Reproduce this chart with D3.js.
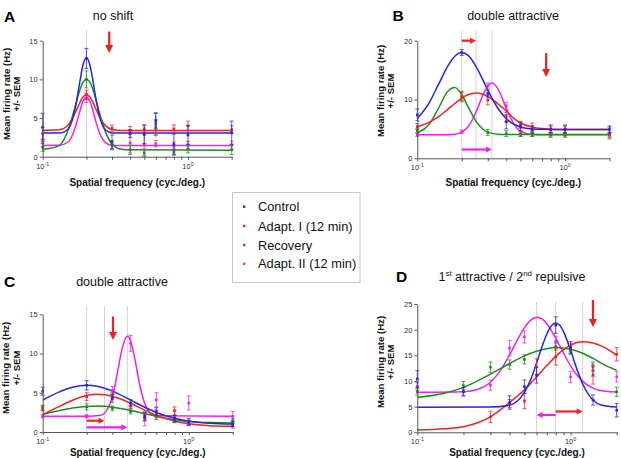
<!DOCTYPE html>
<html><head><meta charset="utf-8">
<script src="https://cdn.jsdelivr.net/npm/d3@7"></script>
<style>body{margin:0;background:#fff}svg{display:block}text{font-family:"Liberation Sans",Arial,sans-serif}</style>
</head><body><svg id="c" width="621" height="458"></svg>
<script>
// ---------- data ----------
const seriesNames = ["Control", "Adapt. I (12 min)", "Recovery", "Adapt. II (12 min)"];
const seriesColors = ["#2525e0", "#ee2424", "#1f8c1f", "#ee22ee"];
const panelLetters = ["A", "B", "C", "D"];
const panelTitles = ["no shift", "double attractive", "double attractive", "1st attractive / 2nd repulsive"];
const xTickValues = [0.1, 0.2, 0.3, 0.4, 0.5, 0.6, 0.7, 0.8, 0.9, 1, 2];
const xTickLabels = [{v: 0.1, base: "10", exp: "-1"}, {v: 1, base: "10", exp: "0"}];
const yTicksA = [0, 5, 10, 15];
const yTicksB = [0, 10, 20];
const yTicksC = [0, 5, 10, 15];
const yTicksD = [0, 5, 10, 15, 20, 25];

// Panel A – measured points
const ptsX_A = [0.1, 0.2, 0.3, 0.4, 0.5, 0.6, 0.8, 1, 2];
const A_ctrl = [3.8, 12.7, 1.9, 3.0, 2.9, 4.6, 1.6, 2.8, 3.1];
const A_ctrlErr = [1.8, 1.3, 0.9, 0.5, 1.2, 1.0, 1.3, 1.2, 1.5];
const A_ad1 = [3.0, 8.0, 3.7, 3.4, 3.6, 3.8, 3.6, 4.0, 3.5];
const A_ad1Err = [0.8, 0.6, 0.4, 0.5, 0.5, 1.0, 0.5, 0.6, 0.5];
const A_rec = [1.2, 10.0, 1.5, 0.9, 0.5, 4.2, 0.6, 1.0, 0.9];
const A_recErr = [0.5, 1.1, 0.6, 0.6, 0.5, 1.5, 0.4, 0.5, 0.6];
const A_ad2 = [1.8, 7.6, 1.6, 1.8, 1.5, 1.7, 1.4, 1.5, 1.5];
const A_ad2Err = [0.5, 0.6, 0.5, 1.3, 1.3, 0.4, 0.5, 0.5, 0.5];
// Panel A – fitted curves
const fitX_A = [0.1, 0.13, 0.15, 0.16, 0.17, 0.18, 0.19, 0.2, 0.21, 0.22, 0.23, 0.25, 0.27, 0.3, 0.35, 0.4, 2];
const A_ctrlFit = [3.05, 3.06, 3.59, 4.76, 6.89, 9.64, 11.96, 12.8, 12.04, 10.2, 7.95, 4.76, 3.48, 3.08, 3.05, 3.05, 3.05];
const A_ad1Fit = [3.4, 3.47, 4.12, 4.91, 5.93, 6.98, 7.74, 8.0, 7.77, 7.17, 6.36, 4.91, 4.02, 3.52, 3.4, 3.4, 3.4];
const A_recFit = [0.95, 1.44, 3.51, 5.19, 6.99, 8.6, 9.68, 10.03, 9.71, 8.88, 7.67, 5.19, 3.24, 1.65, 0.96, 0.89, 0.82];
const A_ad2Fit = [1.45, 1.47, 1.93, 2.78, 4.17, 5.86, 7.22, 7.7, 7.26, 6.18, 4.83, 2.78, 1.83, 1.49, 1.45, 1.45, 1.45];

// Panel B
const ptsX_B = [0.1, 0.2, 0.3, 0.4, 0.5, 0.6, 0.8, 1, 2];
const B_ctrl = [7.4, 18.0, 11.0, 6.2, 5.4, 4.9, 4.9, 4.9, 4.9];
const B_ctrlErr = [1.0, 0.5, 0.6, 1.2, 0.7, 0.6, 0.6, 0.6, 0.6];
const B_ad1 = [5.4, 10.6, 9.9, 7.0, 5.7, 5.4, 5.0, 5.0, 4.3];
const B_ad1Err = [0.5, 0.8, 0.8, 0.8, 0.6, 0.6, 0.7, 0.7, 1.0];
const B_rec = [4.7, 10.4, 4.4, 4.2, 4.1, 4.1, 4.0, 4.0, 4.0];
const B_recErr = [0.4, 0.8, 0.5, 0.5, 0.4, 0.4, 0.4, 0.4, 0.4];
const B_ad2 = [4.0, 4.5, 12.3, 8.9, 4.1, 4.1, 4.0, 4.0, 4.0];
const B_ad2Err = [0.3, 0.3, 0.5, 0.6, 0.4, 0.4, 0.4, 0.4, 0.4];
const fitX_B = [0.1, 0.12, 0.14, 0.16, 0.18, 0.2, 0.22, 0.25, 0.28, 0.3, 0.32, 0.35, 0.4, 0.45, 0.5, 0.6, 0.7, 0.8, 1.0, 2.0];
const B_ctrlFit = [6.75, 9.39, 12.69, 15.59, 17.41, 18.0, 17.54, 15.59, 13.17, 11.59, 10.23, 8.55, 6.75, 5.8, 5.33, 4.99, 4.92, 4.9, 4.9, 4.9];
const B_ad1Fit = [5.38, 6.1, 7.13, 8.29, 9.36, 10.23, 10.8, 11.1, 10.86, 10.5, 10.05, 9.3, 8.07, 6.8, 6.0, 5.3, 5.05, 4.95, 4.9, 4.9];
const B_recFit = [4.33, 5.75, 8.64, 11.31, 12.02, 10.81, 8.84, 6.27, 4.9, 4.46, 4.24, 4.11, 4.05, 4.05, 4.05, 4.05, 4.05, 4.05, 4.05, 4.05];
const B_ad2Fit = [4.0, 4.0, 4.0, 4.01, 4.1, 4.45, 5.32, 7.88, 10.93, 12.32, 12.8, 11.89, 8.5, 5.85, 4.6, 4.04, 4.0, 4.0, 4.0, 4.0];

// Panel C
const ptsX_C = [0.1, 0.2, 0.3, 0.4, 0.5, 0.6, 0.8, 1, 2];
const C_ctrl = [5.2, 5.95, 4.3, 3.7, 2.0, 2.6, 1.7, 1.3, 1.0];
const C_ctrlErr = [0.5, 0.6, 0.5, 0.4, 0.5, 0.5, 0.4, 0.4, 0.3];
const C_ad1 = [3.1, 4.5, 4.6, 3.3, 1.8, 2.4, 2.7, 1.2, 0.8];
const C_ad1Err = [0.3, 0.5, 0.4, 0.3, 0.4, 0.4, 0.5, 0.3, 0.3];
const C_rec = [3.0, 3.2, 3.0, 2.6, 2.1, 1.9, 1.5, 1.1, 1.45];
const C_recErr = [0.3, 0.4, 0.3, 0.3, 0.3, 0.3, 0.3, 0.3, 0.3];
const C_ad2 = [2.0, 2.0, 5.3, 11.3, 1.7, 4.1, 2.0, 3.7, 2.0];
const C_ad2Err = [0.2, 0.2, 0.5, 1.0, 0.9, 0.9, 0.8, 0.9, 0.6];
const fitX_C = [0.1, 0.13, 0.16, 0.2, 0.24, 0.3, 0.4, 0.5, 0.6, 0.8, 1.0, 1.4, 2.0];
const C_ctrlFit = [4.07, 5.12, 5.71, 5.95, 5.79, 5.21, 4.07, 3.15, 2.49, 1.74, 1.38, 1.12, 1.02];
const C_ad1Fit = [2.25, 3.26, 4.04, 4.64, 4.8, 4.55, 3.66, 2.78, 2.12, 1.4, 1.05, 0.8, 0.72];
const C_recFit = [2.24, 2.73, 3.05, 3.26, 3.3, 3.16, 2.75, 2.33, 1.99, 1.54, 1.35, 1.2, 1.15];
const fitX_C_ad2 = [0.1, 0.2, 0.25, 0.27, 0.29, 0.31, 0.33, 0.35, 0.38, 0.4, 0.42, 0.44, 0.46, 0.49, 0.53, 0.6, 2.0];
const C_ad2Fit = [2.0, 2.0, 2.14, 2.56, 3.65, 5.63, 8.27, 10.62, 12.2, 11.58, 10.02, 8.08, 6.15, 4.1, 2.68, 2.06, 2.0];

// Panel D
const ptsX_D = [0.1, 0.2, 0.3, 0.4, 0.5, 0.6, 0.8, 1, 1.4, 2];
const D_ctrl = [10.4, 7.9, null, 5.8, 8.9, 11.1, 20.9, 16.4, 6.3, 4.3];
const D_ctrlErr = [1.6, 0.8, 0, 1.3, 1.3, 1.5, 1.6, 1.0, 1.0, 1.3];
const D_ad1 = [null, null, 3.0, 5.6, 6.1, 12.8, 14.7, 16.7, 11.2, 15.2];
const D_ad1Err = [0, 0, 1.1, 0.8, 1.5, 1.5, 1.6, 1.0, 1.8, 1.3];
const D_rec = [7.9, 9.1, 12.7, 13.2, 14.2, null, 16.7, 16.0, 12.8, 7.9];
const D_recErr = [0.6, 0.8, 1.0, 0.9, 0.9, 0, 0.7, 0.8, 0.9, 0.9];
const D_ad2 = [8.9, 7.9, 9.2, 16.4, 18.6, null, 17.7, 10.8, 12.1, 10.8];
const D_ad2Err = [0.8, 0.8, 1.0, 1.5, 1.2, 0, 1.0, 1.1, 1.2, 1.0];
const fitX_D_ctrl = [0.1, 0.3, 0.4, 0.45, 0.5, 0.55, 0.6, 0.65, 0.7, 0.75, 0.8, 0.85, 0.9, 1.0, 1.1, 1.2, 1.4, 1.6, 2.0];
const D_ctrlFit = [4.9, 4.91, 5.27, 6.11, 7.8, 10.31, 13.46, 16.61, 19.15, 20.77, 21.3, 20.84, 19.63, 15.99, 12.31, 9.41, 6.3, 5.27, 4.92];
const fitX_D_ad1 = [0.1, 0.15, 0.2, 0.25, 0.3, 0.35, 0.4, 0.5, 0.6, 0.7, 0.8, 0.9, 1.0, 1.2, 1.4, 1.7, 2.0];
const D_ad1Fit = [0.45, 0.7, 1.1, 1.9, 3.0, 4.4, 5.8, 8.3, 10.8, 13.0, 14.8, 16.1, 17.0, 17.65, 17.4, 16.4, 15.0];
const fitX_D_rec = [0.1, 0.15, 0.2, 0.3, 0.4, 0.5, 0.6, 0.7, 0.8, 1.0, 1.2, 1.4, 1.7, 2.0];
const D_recFit = [6.8, 7.6, 8.75, 11.35, 13.4, 14.9, 15.8, 16.3, 16.5, 16.2, 15.4, 14.4, 13.0, 12.1];
const fitX_D_ad2 = [0.1, 0.2, 0.25, 0.3, 0.35, 0.4, 0.45, 0.5, 0.55, 0.6, 0.65, 0.7, 0.8, 0.9, 1.0, 1.2, 1.4, 1.7, 2.0];
const D_ad2Fit = [7.8, 7.9, 8.4, 9.76, 12.11, 15.09, 18.02, 20.41, 21.87, 22.4, 22.08, 21.16, 18.36, 15.42, 12.94, 9.92, 8.61, 7.98, 7.84];

// preferred-frequency guide lines, down arrows (adapting frequency), shift arrows
const guidesA = [0.2], guidesB = [0.2, 0.25, 0.32], guidesC = [0.2, 0.265, 0.38], guidesD = [0.6, 0.8, 1.2];
const adaptFreq = [0.287, 0.745, 0.303, 1.4];
const shiftsB = [{from: 0.2, to: 0.25, s: 1}, {from: 0.2, to: 0.32, s: 3}];
const shiftsC = [{from: 0.2, to: 0.265, s: 1}, {from: 0.2, to: 0.38, s: 3}];
const shiftsD = [{from: 0.8, to: 0.6, s: 3}, {from: 0.8, to: 1.2, s: 1}];

// ---------- layout ----------
const panels = [
  {letter: 0, L: 42.7, R: 231.7, T: 40.7, B: 156.7, ymax: 15, yt: yTicksA, guides: guidesA, gTop: 30,
   arrow: [31.5, 53], shifts: [], shiftY: [],
   ylab: {x1: 9.6, x2: 20.2, cy: 94}, xlabY: 186, title: {x: 113, y: 20}, letterPos: {x: 4, y: 22},
   pts: {x: ptsX_A, v: [A_ctrl, A_ad1, A_rec, A_ad2], e: [A_ctrlErr, A_ad1Err, A_recErr, A_ad2Err]},
   fits: [[fitX_A, A_ctrlFit], [fitX_A, A_ad1Fit], [fitX_A, A_recFit], [fitX_A, A_ad2Fit]]},
  {letter: 1, L: 417.3, R: 609.5, T: 40.7, B: 158.3, ymax: 20, yt: yTicksB, guides: guidesB, gTop: 31,
   arrow: [53, 77], shifts: shiftsB, shiftY: [40.7, 149.5],
   ylab: {x1: 383.5, x2: 393.6, cy: 91}, xlabY: 186, title: {x: 513, y: 20}, letterPos: {x: 392.5, y: 21},
   pts: {x: ptsX_B, v: [B_ctrl, B_ad1, B_rec, B_ad2], e: [B_ctrlErr, B_ad1Err, B_recErr, B_ad2Err]},
   fits: [[fitX_B, B_ctrlFit], [fitX_B, B_ad1Fit], [fitX_B, B_recFit], [fitX_B, B_ad2Fit]]},
  {letter: 2, L: 42.7, R: 232.7, T: 314.3, B: 432, ymax: 15, yt: yTicksC, guides: guidesC, gTop: 306,
   arrow: [316.5, 340], shifts: shiftsC, shiftY: [420.7, 427.3],
   ylab: {x1: 9.4, x2: 19.8, cy: 368}, xlabY: 455.6, title: {x: 122, y: 286}, letterPos: {x: 4, y: 287},
   pts: {x: ptsX_C, v: [C_ctrl, C_ad1, C_rec, C_ad2], e: [C_ctrlErr, C_ad1Err, C_recErr, C_ad2Err]},
   fits: [[fitX_C, C_ctrlFit], [fitX_C, C_ad1Fit], [fitX_C, C_recFit], [fitX_C_ad2, C_ad2Fit]]},
  {letter: 3, L: 417.3, R: 616.7, T: 304, B: 432.3, ymax: 25, yt: yTicksD, guides: guidesD, gTop: 302,
   arrow: [300, 327], shifts: shiftsD, shiftY: [415, 411.5],
   ylab: {x1: 383.5, x2: 393.6, cy: 362}, xlabY: 455.6, title: {x: 512, y: 281}, letterPos: {x: 396, y: 281.5},
   pts: {x: ptsX_D, v: [D_ctrl, D_ad1, D_rec, D_ad2], e: [D_ctrlErr, D_ad1Err, D_recErr, D_ad2Err]},
   fits: [[fitX_D_ctrl, D_ctrlFit], [fitX_D_ad1, D_ad1Fit], [fitX_D_rec, D_recFit], [fitX_D_ad2, D_ad2Fit]]}
];

const svg = d3.select("#c");
const axisCol = "#555", tickTxt = "#333";

function downArrow(g, cx, y1, y2, col) {
  g.append("line").attr("x1", cx).attr("x2", cx).attr("y1", y1).attr("y2", y2 - 7)
    .attr("stroke", col).attr("stroke-width", 2.2);
  g.append("path").attr("d", `M${cx - 4},${y2 - 8}L${cx + 4},${y2 - 8}L${cx},${y2}Z`).attr("fill", col);
}
function hArrow(g, x1, x2, yy, col) {
  const dir = x2 > x1 ? 1 : -1;
  g.append("line").attr("x1", x1).attr("x2", x2 - dir * 5).attr("y1", yy).attr("y2", yy)
    .attr("stroke", col).attr("stroke-width", 2.2);
  g.append("path").attr("d", `M${x2 - dir * 6},${yy - 3}L${x2 - dir * 6},${yy + 3}L${x2},${yy}Z`).attr("fill", col);
}

panels.forEach(p => {
  const g = svg.append("g");
  const x = d3.scaleLog().domain([0.1, 2]).range([p.L, p.R]);
  const y = d3.scaleLinear().domain([0, p.ymax]).range([p.B, p.T]);

  // guide lines
  p.guides.forEach(v => g.append("line").attr("x1", x(v)).attr("x2", x(v)).attr("y1", p.gTop).attr("y2", p.B)
    .attr("stroke", "#d2d2d2").attr("stroke-width", 1));

  // fitted curves
  const line = d3.line().x(d => x(d[0])).y(d => y(d[1])).curve(d3.curveMonotoneX);
  [3, 2, 1, 0].forEach(s => {
    const [xs, ys] = p.fits[s];
    g.append("path").datum(xs.map((xv, i) => [xv, ys[i]])).attr("d", line)
      .attr("fill", "none").attr("stroke", seriesColors[s]).attr("stroke-width", 1.5);
  });

  // error bars + markers
  [3, 2, 1, 0].forEach(s => {
    const vals = p.pts.v[s], errs = p.pts.e[s];
    p.pts.x.forEach((xv, i) => {
      if (vals[i] == null) return;
      const cx = x(xv), lo = y(Math.max(0, vals[i] - errs[i])), hi = y(vals[i] + errs[i]);
      const eg = g.append("g").attr("stroke", seriesColors[s]).attr("stroke-width", 0.9).attr("opacity", 0.85);
      eg.append("line").attr("x1", cx).attr("x2", cx).attr("y1", lo).attr("y2", hi);
      eg.append("line").attr("x1", cx - 2).attr("x2", cx + 2).attr("y1", lo).attr("y2", lo);
      eg.append("line").attr("x1", cx - 2).attr("x2", cx + 2).attr("y1", hi).attr("y2", hi);
      g.append("rect").attr("x", cx - 1.3).attr("y", y(vals[i]) - 1.3).attr("width", 2.6).attr("height", 2.6)
        .attr("fill", seriesColors[s]);
    });
  });

  // axes
  const ya = g.append("g").attr("transform", `translate(${p.L},0)`)
    .call(d3.axisLeft(y).tickValues(p.yt).tickSize(3).tickPadding(2).tickSizeOuter(0));
  const xa = g.append("g").attr("transform", `translate(0,${p.B})`)
    .call(d3.axisBottom(x).tickValues(xTickValues).tickFormat("").tickSize(3).tickSizeOuter(0));
  [ya, xa].forEach(a => {
    a.select(".domain").attr("stroke", axisCol).attr("stroke-width", 1);
    a.selectAll(".tick line").attr("stroke", axisCol);
    a.selectAll("text").attr("fill", tickTxt).attr("font-size", 7.5)
      .attr("font-family", "Liberation Sans, Arial, sans-serif");
  });
  xTickLabels.forEach(t => {
    const tx = g.append("text").attr("x", x(t.v)).attr("y", p.B + 11.8).attr("text-anchor", "middle")
      .attr("fill", tickTxt).attr("font-size", 7.5);
    tx.append("tspan").text(t.base);
    tx.append("tspan").attr("dy", -3).attr("font-size", 5.2).text(t.exp);
  });

  // axis titles
  g.append("text").attr("x", (p.L + p.R) / 2 - 0).attr("y", p.xlabY).attr("text-anchor", "middle")
    .attr("font-weight", "bold").attr("font-size", 10).attr("fill", "#111").text("Spatial frequency (cyc./deg.)");
  g.append("text").attr("transform", `translate(${p.ylab.x1},${p.ylab.cy}) rotate(-90)`).attr("text-anchor", "middle")
    .attr("font-weight", "bold").attr("font-size", 9.6).attr("fill", "#111").text("Mean firing rate (Hz)");
  g.append("text").attr("transform", `translate(${p.ylab.x2},${p.ylab.cy}) rotate(-90)`).attr("text-anchor", "middle")
    .attr("font-weight", "bold").attr("font-size", 9.6).attr("fill", "#111").text("+/- SEM");

  // title
  const tt = g.append("text").attr("x", p.title.x).attr("y", p.title.y).attr("text-anchor", "middle")
    .attr("font-size", 12.5).attr("fill", "#111");
  const title = panelTitles[p.letter];
  if (p.letter === 3) {
    tt.append("tspan").text("1");
    tt.append("tspan").attr("dy", -5).attr("font-size", 8).text("st");
    tt.append("tspan").attr("dy", 5).text(" attractive / 2");
    tt.append("tspan").attr("dy", -5).attr("font-size", 8).text("nd");
    tt.append("tspan").attr("dy", 5).text(" repulsive");
  } else tt.text(title);
  g.append("text").attr("x", p.letterPos.x).attr("y", p.letterPos.y).attr("font-weight", "bold")
    .attr("font-size", 15.5).attr("fill", "#000").text(panelLetters[p.letter]);

  // arrows
  downArrow(g, x(adaptFreq[p.letter]), p.arrow[0], p.arrow[1], "#ee1f1f");
  p.shifts.forEach((sh, i) => hArrow(g, x(sh.from), x(sh.to), p.shiftY[i], seriesColors[sh.s]));
});

// legend
const lg = svg.append("g");
lg.append("rect").attr("x", 232.5).attr("y", 192.5).attr("width", 127.5).attr("height", 90)
  .attr("fill", "#fff").attr("stroke", "#c8c8c8").attr("stroke-width", 1);
const rowY = [206.7, 226, 245, 263.8];
seriesNames.forEach((n, i) => {
  lg.append("rect").attr("x", 243).attr("y", rowY[i] - 1.2).attr("width", 2.4).attr("height", 2.4).attr("fill", seriesColors[i]);
  lg.append("text").attr("x", 258).attr("y", rowY[i] + 4.6).attr("font-size", 12.8).attr("fill", "#111").text(n);
});
</script></body></html>
